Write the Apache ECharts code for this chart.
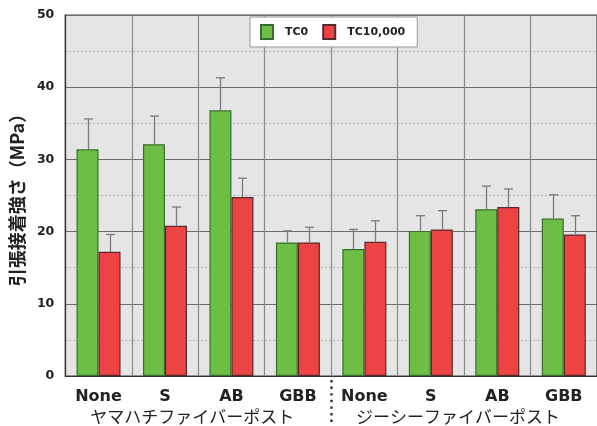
<!DOCTYPE html>
<html><head><meta charset="utf-8">
<script src="https://cdn.jsdelivr.net/npm/echarts@6/dist/echarts.min.js"></script>
<style>html,body{margin:0;padding:0;background:#fff}#c{width:597px;height:426px}</style>
</head><body><div id="c"></div>
<script>
const categories = ['None','S','AB','GBB','None','S','AB','GBB'];
const groups = ['ヤマハチファイバーポスト','ジーシーファイバーポスト'];
const seriesNames = ['TC0','TC10,000'];
const tc0 = [31.4, 32.1, 36.8, 18.5, 17.6, 20.1, 23.1, 21.8];
const tc0Err = [4.2, 3.9, 4.5, 1.6, 2.7, 2.1, 3.2, 3.3];
const tc10k = [17.2, 20.8, 24.8, 18.5, 18.6, 20.3, 23.4, 19.6];
const tc10kErr = [2.4, 2.6, 2.6, 2.1, 2.9, 2.6, 2.5, 2.6];
const yMin = 0, yMax = 50, yStep = 10;

const LAT = '"DejaVu Sans","Noto Sans CJK JP",sans-serif';
const CJK = '"Noto Sans CJK JP","DejaVu Sans",sans-serif';
const BAR_W = 22;
const chart = echarts.init(document.getElementById('c'));

function errSeries(name, vals, errs, side) {
  return {
    type: 'custom', name: name + ' err', z: 4, silent: true,
    data: vals.map((v, i) => [i, v, v + errs[i]]),
    renderItem: function (params, api) {
      const i = api.value(0);
      const base = api.coord([i, api.value(1)]);
      const top = api.coord([i, api.value(2)]);
      const x = Math.round(base[0] + side * BAR_W / 2) + 0.5;
      const st = { stroke: '#7a7a7a', lineWidth: 1.3 };
      return { type: 'group', children: [
        { type: 'line', shape: { x1: x, y1: base[1], x2: x, y2: top[1] }, style: st },
        { type: 'line', shape: { x1: x - 4.5, y1: top[1], x2: x + 4.5, y2: top[1] }, style: st }
      ]};
    }
  };
}

const option = {
  animation: false,
  textStyle: { fontFamily: LAT },
  grid: { left: 64, top: 15, width: 540, height: 361, show: true,
          backgroundColor: '#e5e5e5', borderColor: '#444', borderWidth: 1.2 },
  legend: {
    data: seriesNames, left: 250, top: 17, orient: 'horizontal', icon: 'rect',
    backgroundColor: '#fff', borderColor: '#999', borderWidth: 1,
    padding: [7, 12, 7, 10], itemGap: 14, itemWidth: 12, itemHeight: 14,
    textStyle: { fontFamily: LAT, fontWeight: 'bold', fontSize: 11, color: '#222', padding: [0, 0, 0, 7] }
  },
  xAxis: [{
    type: 'category', data: categories, position: 'bottom',
    axisLine: { lineStyle: { color: '#333', width: 1.2 } },
    axisTick: { show: false },
    axisLabel: { fontFamily: LAT, fontWeight: 'bold', fontSize: 16, color: '#222', margin: 13, interval: 0 },
    splitLine: { show: true, interval: 0, lineStyle: { color: '#8a8a8a', width: 1.2 } }
  }, {
    type: 'category', data: groups, position: 'bottom', offset: 21,
    axisLine: { show: false }, axisTick: { show: false }, splitLine: { show: false },
    axisLabel: { fontFamily: CJK, fontSize: 17, color: '#222', margin: 11, interval: 0, padding: [0, 12, 0, 0] }
  }],
  yAxis: {
    type: 'value', min: yMin, max: yMax, interval: yStep,
    name: '引張接着強さ（MPa）', nameLocation: 'middle', nameRotate: 90, nameGap: 30,
    nameTextStyle: { fontFamily: CJK, fontWeight: 'bold', fontSize: 18, color: '#222' },
    axisLine: { show: true, lineStyle: { color: '#333', width: 1.2 } },
    axisTick: { show: false },
    axisLabel: { fontFamily: LAT, fontWeight: 'bold', fontSize: 12.5, color: '#222', margin: 11 },
    splitLine: { show: true, lineStyle: { color: '#6e6e6e', width: 1.2 } },
    minorTick: { show: false, splitNumber: 2 },
    minorSplitLine: { show: true, lineStyle: { color: '#aaa', type: [2, 2], width: 1 } }
  },
  series: [
    { name: seriesNames[0], type: 'bar', data: tc0, barWidth: BAR_W, barGap: '0%', z: 3,
      itemStyle: { color: '#6dbe45', borderColor: '#3a6e2e', borderWidth: 1.2 } },
    { name: seriesNames[1], type: 'bar', data: tc10k, barWidth: BAR_W, barGap: '0%', z: 3,
      itemStyle: { color: '#ee4345', borderColor: '#5a2a2a', borderWidth: 1.2 } },
    errSeries(seriesNames[0], tc0, tc0Err, -1),
    errSeries(seriesNames[1], tc10k, tc10kErr, 1)
  ]
};
chart.setOption(option);

// dotted separator between the two groups, located through the axis scale
const p0 = chart.convertToPixel({ xAxisIndex: 0 }, 3);
const p1 = chart.convertToPixel({ xAxisIndex: 0 }, 4);
const sepX = Math.round((p0 + p1) / 2) + 0.5;
const y0 = chart.convertToPixel({ yAxisIndex: 0 }, 0);
chart.setOption({ graphic: [{
  type: 'line', shape: { x1: sepX, y1: y0 + 4, x2: sepX, y2: 426 },
  style: { stroke: '#333', lineWidth: 2.4, lineDash: [2.4, 4.2] }
}]});
</script></body></html>
